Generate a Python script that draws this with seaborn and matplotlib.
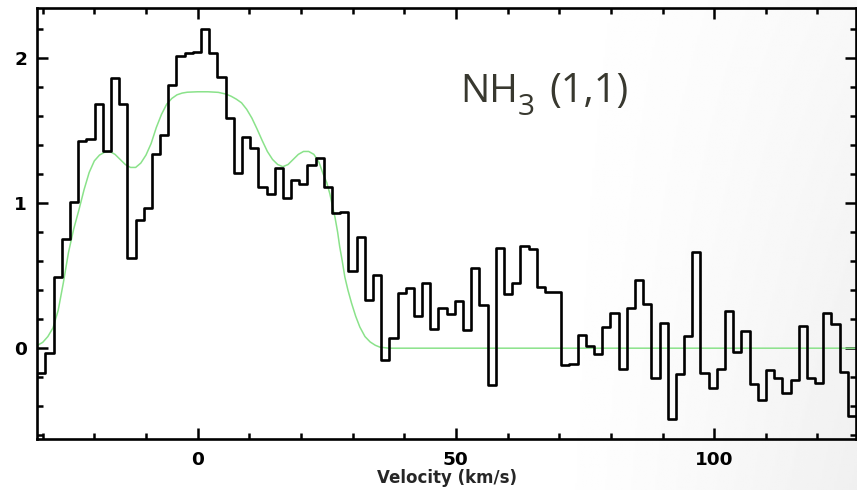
import numpy as np
import pandas as pd
import matplotlib
matplotlib.use("Agg")
import matplotlib.pyplot as plt
import seaborn as sns

# ---- data ----
channel_start = -31.04   # left edge of first channel (km/s)
channel_width = 1.585    # km/s
intensity = [
    -0.174, -0.03, 0.49, 0.75, 1.01, 1.43, 1.44, 1.68, 1.356, 1.858,
    1.68, 0.623, 0.88, 0.964, 1.338, 1.47, 1.81, 2.014, 2.036, 2.04,
    2.197, 2.03, 1.87, 1.585, 1.21, 1.452, 1.38, 1.113, 1.063, 1.24,
    1.033, 1.155, 1.13, 1.265, 1.31, 1.109, 0.93, 0.937, 0.531, 0.765,
    0.33, 0.502, -0.082, 0.067, 0.38, 0.417, 0.222, 0.449, 0.13, 0.28,
    0.234, 0.325, 0.124, 0.555, 0.30, -0.254, 0.692, 0.376, 0.449, 0.703,
    0.68, 0.421, 0.387, 0.387, -0.117, -0.11, 0.089, 0.016, -0.041, 0.147,
    0.243, -0.14, 0.277, 0.467, 0.307, -0.204, 0.174, -0.49, -0.179, 0.085,
    0.662, -0.174, -0.277, -0.14, 0.254, -0.025, 0.119, -0.25, -0.36, -0.15,
    -0.202, -0.31, -0.22, 0.151, -0.204, -0.238, 0.243, 0.17, -0.165, -0.465,
]

fit_velocity = [-31.0, -30.0, -29.0, -28.0, -27.0, -26.0, -25.0, -24.0, -23.0,
                -22.0, -21.0, -20.0, -19.0, -18.0, -17.0, -16.0, -15.0, -14.0,
                -13.0, -12.0, -11.0, -10.0, -9.0, -8.0, -7.0, -6.0, -5.0,
                -4.0, -3.0, -2.0, 0.0, 2.0, 4.0, 5.5, 6.5, 7.5, 8.5, 9.5,
                10.5, 11.5, 12.5, 13.5, 14.5, 15.5, 16.5, 17.5, 18.5, 19.5,
                20.5, 21.5, 22.5, 23.5, 24.3, 25.0, 25.6, 26.1, 26.6, 27.1,
                27.5, 28.0, 28.5, 29.1, 29.8, 30.6, 31.4, 32.4, 33.4, 34.4,
                35.3, 37.0, 127.4]
fit_intensity = [0.02, 0.04, 0.08, 0.14, 0.26, 0.45, 0.66, 0.82, 0.95,
                 1.09, 1.21, 1.29, 1.33, 1.35, 1.355, 1.335, 1.30, 1.265,
                 1.245, 1.245, 1.275, 1.33, 1.41, 1.52, 1.61, 1.68, 1.72,
                 1.745, 1.757, 1.763, 1.766, 1.766, 1.762, 1.75, 1.735, 1.715,
                 1.69, 1.645, 1.585, 1.51, 1.43, 1.355, 1.30, 1.265, 1.25,
                 1.265, 1.30, 1.335, 1.355, 1.355, 1.335, 1.28, 1.20, 1.14,
                 1.063, 0.98, 0.90, 0.80, 0.70, 0.60, 0.49, 0.40, 0.31, 0.22,
                 0.146, 0.08, 0.043, 0.02, 0.007, 0.0, 0.0]

x_ticks = [0, 50, 100]
y_ticks = [0, 1, 2]
x_label = "Velocity (km/s)"
title_main = "NH"
title_sub = "3"
title_rest = "(1,1)"

# ---- build frames ----
n = len(intensity)
edges = [channel_start + channel_width * i for i in range(n + 1)]
spec = pd.DataFrame({"v": edges, "T": intensity + [intensity[-1]]})
fit = pd.DataFrame({"v": fit_velocity, "T": fit_intensity})

sns.set_style("ticks")
plt.rcParams["font.family"] = ["DejaVu Sans"]

fig = plt.figure(figsize=(8.57, 4.90), dpi=100)

# slide-like background gradient (very subtle, toward the right)
bg = fig.add_axes([0, 0, 1, 1], zorder=-10)
gx = np.linspace(0, 1, 400)
gy = np.linspace(0, 1, 240)
GX, GY = np.meshgrid(gx, gy)
shade = np.clip((GX - 0.62) / 0.38, 0, 1) ** 1.4 * (0.45 + 0.55 * GY)
img = 1.0 - 0.06 * shade
bg.imshow(img, cmap="gray", vmin=0, vmax=1, aspect="auto",
          extent=[0, 1, 0, 1], origin="upper", interpolation="bilinear")
bg.set_axis_off()

ax = fig.add_axes([37.3 / 857, 1 - 438.5 / 490, (856 - 37.3) / 857,
                   (438.5 - 8) / 490])
ax.set_facecolor("none")

sns.lineplot(data=fit, x="v", y="T", ax=ax, color="#8ae28a", lw=1.1,
             sort=False, zorder=2)
sns.lineplot(data=spec, x="v", y="T", ax=ax, color="black", lw=1.9,
             drawstyle="steps-post", sort=False, zorder=3)

ax.set_xlim(channel_start, edges[-1])
ax.set_ylim(-0.622, 2.343)
ax.set_xticks(x_ticks)
ax.set_yticks(y_ticks)
ax.set_xticks(np.arange(-30, 130, 10), minor=True)
ax.set_yticks(np.arange(-0.6, 2.4, 0.2), minor=True)
ax.tick_params(which="both", direction="in", top=True, right=True,
               width=1.8, colors="black")
ax.tick_params(which="major", length=8)
ax.tick_params(which="minor", length=4.2)
ax.tick_params(axis="x", which="major", pad=9)
ax.tick_params(axis="y", which="major", pad=7.5)
for lab in ax.get_xticklabels() + ax.get_yticklabels():
    lab.set_fontsize(13.3)
    lab.set_fontweight("bold")
for s in ax.spines.values():
    s.set_linewidth(1.9)
    s.set_color("black")
ax.set_xlabel(x_label, fontsize=12, fontweight="bold", labelpad=0)
ax.set_ylabel("")
ax.xaxis.set_label_coords(0.5, -0.071)

tcol = "#38382f"
fig.text(460 / 857, 1 - 101.7 / 490, title_main, fontsize=28,
         family="Open Sans", color=tcol, ha="left", va="baseline")
fig.text(518 / 857, 1 - 115 / 490, title_sub, fontsize=21.5,
         family="Open Sans", color=tcol, ha="left", va="baseline")
fig.text(549 / 857, 1 - 101.7 / 490, title_rest, fontsize=28.5,
         family="Open Sans", color=tcol, ha="left", va="baseline")

fig.savefig("out.png", dpi=100)
